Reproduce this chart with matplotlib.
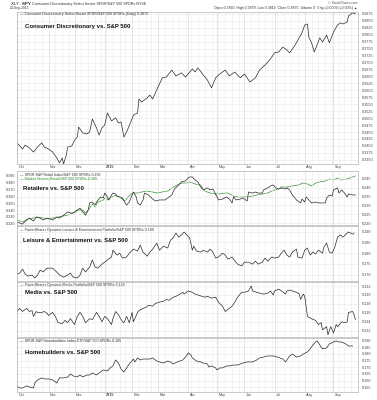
import matplotlib
matplotlib.use("Agg")
import matplotlib.pyplot as plt
import pandas as pd

plt.rcParams["font.family"] = ["Liberation Sans", "DejaVu Sans"]

# Trading-day calendar, 1 Oct 2014 .. 24 Sep 2015 (x axis is the trading-day index)
holidays = ["2014-11-27", "2014-12-25", "2015-01-01", "2015-01-19", "2015-02-16",
            "2015-04-03", "2015-05-25", "2015-07-03", "2015-09-07"]
dates = pd.bdate_range("2014-10-01", "2015-09-24")
dates = dates[~dates.isin(pd.to_datetime(holidays))]
month_labels = ["Oct", "Nov", "Dec", "2015", "Feb", "Mar", "Apr", "May", "Jun", "Jul", "Aug", "Sep"]

# Consumer Discretionary / S&P 500
cd_days = [0, 4, 6, 9, 12, 15, 18, 20, 23, 26, 29, 31, 33, 34, 36, 37, 40, 42, 44, 45,
           48, 51, 53, 55, 58, 60, 62, 64, 66, 69, 72, 74, 76, 78, 80, 83, 85, 88, 89, 91,
           95, 97, 99, 101, 104, 106, 109, 113, 116, 120, 123, 128, 130, 132, 136, 139, 142, 145, 148, 152,
           155, 159, 163, 166, 170, 174, 177, 181, 185, 188, 191, 194, 197, 199, 203, 205, 208, 210, 212, 213,
           215, 217, 219, 221, 223, 226, 228, 231, 234, 236, 238, 241, 242, 245, 247]
cd_vals = [0.3411, 0.3389, 0.3403, 0.3393, 0.3378, 0.3396, 0.3411, 0.3396, 0.3389, 0.3378,
           0.3357, 0.3339, 0.3357, 0.3335, 0.3367, 0.3396, 0.3400, 0.3421, 0.3432, 0.3468,
           0.3447, 0.3443, 0.3450, 0.3497, 0.3465, 0.3439, 0.3465, 0.3475, 0.3519, 0.3490,
           0.3501, 0.3483, 0.3486, 0.3432, 0.3450, 0.3486, 0.3511, 0.3519, 0.3569, 0.3558,
           0.3573, 0.3583, 0.3569, 0.3591, 0.3623, 0.3645, 0.3648, 0.3673, 0.3652, 0.3663,
           0.3648, 0.3677, 0.3666, 0.3681, 0.3655, 0.3637, 0.3609, 0.3645, 0.3659, 0.3673,
           0.3652, 0.3666, 0.3645, 0.3659, 0.3630, 0.3645, 0.3673, 0.3691, 0.3713, 0.3735,
           0.3738, 0.3756, 0.3745, 0.3735, 0.3763, 0.3781, 0.3807, 0.3835, 0.3839, 0.3792,
           0.3771, 0.3738, 0.3763, 0.3789, 0.3774, 0.3799, 0.3771, 0.3810, 0.3835, 0.3843,
           0.3839, 0.3846, 0.3868, 0.3879, 0.3875]

# SPDR S&P Retail / S&P 500 (black, right scale)
xrt_days = [0, 2, 4, 7, 9, 12, 14, 17, 19, 22, 24, 26, 29, 31, 34, 37, 39, 41, 44, 46,
            48, 50, 52, 53, 55, 57, 58, 61, 63, 64, 66, 67, 69, 70, 72, 73, 75, 77, 79, 80,
            82, 84, 85, 87, 88, 90, 92, 93, 96, 99, 101, 104, 108, 110, 113, 115, 118, 120, 123, 125,
            126, 128, 130, 132, 134, 136, 139, 141, 143, 146, 147, 150, 153, 155, 157, 158, 160, 163, 165, 168,
            169, 172, 174, 176, 179, 180, 183, 185, 187, 189, 191, 193, 196, 197, 199, 201, 204, 207, 208, 210,
            211, 213, 215, 218, 220, 223, 225, 226, 228, 230, 231, 234, 235, 237, 239, 241, 242, 245, 247]
xrt_vals = [0.2206, 0.2200, 0.2194, 0.2217, 0.2228, 0.2211, 0.2234, 0.2228, 0.2217, 0.2228,
            0.2223, 0.2217, 0.2234, 0.2228, 0.2245, 0.2263, 0.2257, 0.2257, 0.2274, 0.2285,
            0.2263, 0.2245, 0.2274, 0.2314, 0.2319, 0.2302, 0.2319, 0.2348, 0.2342, 0.2370,
            0.2348, 0.2331, 0.2359, 0.2370, 0.2365, 0.2353, 0.2348, 0.2342, 0.2314, 0.2302,
            0.2319, 0.2359, 0.2376, 0.2348, 0.2314, 0.2302, 0.2331, 0.2370, 0.2359, 0.2336,
            0.2325, 0.2331, 0.2331, 0.2342, 0.2359, 0.2393, 0.2416, 0.2433, 0.2439, 0.2456,
            0.2461, 0.2461, 0.2444, 0.2433, 0.2405, 0.2388, 0.2399, 0.2388, 0.2393, 0.2348,
            0.2331, 0.2336, 0.2348, 0.2336, 0.2314, 0.2348, 0.2331, 0.2336, 0.2342, 0.2325,
            0.2376, 0.2370, 0.2376, 0.2370, 0.2370, 0.2388, 0.2399, 0.2410, 0.2416, 0.2399,
            0.2393, 0.2399, 0.2393, 0.2399, 0.2388, 0.2359, 0.2331, 0.2314, 0.2336, 0.2319,
            0.2348, 0.2331, 0.2314, 0.2319, 0.2314, 0.2314, 0.2314, 0.2342, 0.2359, 0.2353,
            0.2388, 0.2399, 0.2370, 0.2388, 0.2370, 0.2348, 0.2365, 0.2359, 0.2359]

# Market Vectors Retail / S&P 500 (green, left scale)
rth_days = [0, 4, 8, 12, 15, 19, 23, 26, 30, 34, 37, 41, 45, 48, 50, 52, 55, 57, 59, 63,
            65, 66, 69, 72, 74, 77, 79, 81, 84, 88, 91, 95, 99, 102, 106, 110, 113, 117, 120, 124,
            126, 130, 134, 137, 141, 145, 148, 152, 154, 158, 161, 165, 169, 172, 175, 179, 183, 186, 188, 191,
            193, 196, 198, 201, 205, 209, 212, 215, 218, 221, 225, 228, 231, 234, 237, 241, 243, 247]
rth_vals = [0.3255, 0.3226, 0.3270, 0.3284, 0.3299, 0.3284, 0.3270, 0.3284, 0.3299, 0.3313,
            0.3327, 0.3357, 0.3400, 0.3400, 0.3357, 0.3400, 0.3487, 0.3443, 0.3516, 0.3545,
            0.3588, 0.3545, 0.3588, 0.3617, 0.3588, 0.3559, 0.3530, 0.3588, 0.3646, 0.3646,
            0.3661, 0.3675, 0.3661, 0.3646, 0.3661, 0.3675, 0.3719, 0.3762, 0.3791, 0.3791,
            0.3806, 0.3777, 0.3762, 0.3675, 0.3646, 0.3632, 0.3632, 0.3646, 0.3646, 0.3603,
            0.3588, 0.3588, 0.3588, 0.3603, 0.3617, 0.3632, 0.3646, 0.3675, 0.3690, 0.3704,
            0.3733, 0.3733, 0.3733, 0.3748, 0.3762, 0.3791, 0.3777, 0.3748, 0.3791, 0.3806,
            0.3820, 0.3849, 0.3835, 0.3864, 0.3835, 0.3849, 0.3864, 0.3893]

# PowerShares Dynamic Leisure & Entertainment / S&P 500
pej_days = [0, 2, 4, 6, 8, 11, 13, 15, 17, 19, 22, 24, 26, 29, 31, 34, 37, 39, 41, 44,
            46, 48, 50, 53, 55, 57, 59, 62, 64, 66, 69, 70, 73, 75, 77, 80, 82, 85, 88, 90,
            92, 95, 97, 99, 102, 104, 107, 110, 112, 114, 116, 118, 120, 122, 124, 126, 128, 129, 131, 134,
            136, 139, 141, 143, 145, 147, 150, 152, 154, 157, 159, 161, 164, 166, 169, 172, 174, 176, 179, 181,
            183, 186, 188, 191, 193, 195, 197, 199, 201, 204, 205, 208, 210, 212, 214, 216, 218, 220, 223, 224,
            226, 228, 230, 232, 234, 236, 238, 241, 242, 245, 246]
pej_vals = [0.1702, 0.1707, 0.1726, 0.1702, 0.1693, 0.1698, 0.1684, 0.1698, 0.1721, 0.1712,
            0.1730, 0.1730, 0.1730, 0.1712, 0.1698, 0.1688, 0.1698, 0.1707, 0.1688, 0.1684,
            0.1698, 0.1730, 0.1712, 0.1735, 0.1768, 0.1735, 0.1730, 0.1749, 0.1758, 0.1768,
            0.1782, 0.1814, 0.1791, 0.1800, 0.1777, 0.1782, 0.1800, 0.1819, 0.1810, 0.1838,
            0.1805, 0.1786, 0.1805, 0.1819, 0.1847, 0.1814, 0.1833, 0.1824, 0.1861, 0.1871,
            0.1894, 0.1875, 0.1885, 0.1899, 0.1885, 0.1871, 0.1814, 0.1833, 0.1810, 0.1805,
            0.1814, 0.1805, 0.1819, 0.1805, 0.1777, 0.1782, 0.1800, 0.1791, 0.1772, 0.1782,
            0.1763, 0.1749, 0.1740, 0.1758, 0.1758, 0.1749, 0.1763, 0.1749, 0.1758, 0.1777,
            0.1763, 0.1782, 0.1777, 0.1782, 0.1800, 0.1814, 0.1791, 0.1782, 0.1805, 0.1819,
            0.1782, 0.1777, 0.1814, 0.1824, 0.1791, 0.1805, 0.1796, 0.1814, 0.1800, 0.1829,
            0.1847, 0.1805, 0.1800, 0.1829, 0.1875, 0.1885, 0.1875, 0.1894, 0.1899, 0.1889,
            0.1894]

# PowerShares Dynamic Media / S&P 500
pbs_days = [0, 2, 4, 7, 9, 11, 12, 14, 15, 18, 20, 22, 23, 26, 28, 30, 33, 35, 37, 39,
            42, 44, 46, 48, 50, 53, 55, 58, 60, 62, 64, 66, 69, 70, 72, 74, 77, 78, 80, 82,
            84, 85, 88, 89, 92, 94, 96, 99, 101, 104, 107, 109, 111, 114, 116, 119, 121, 122, 125, 128,
            130, 132, 135, 137, 139, 142, 145, 147, 150, 152, 154, 157, 159, 161, 164, 166, 169, 171, 172, 175,
            177, 180, 183, 185, 187, 188, 191, 193, 196, 197, 199, 201, 204, 206, 207, 209, 210, 212, 215, 218,
            220, 222, 223, 226, 227, 229, 231, 233, 234, 237, 239, 241, 242, 245, 246, 247]
pbs_vals = [0.1263, 0.1270, 0.1263, 0.1270, 0.1263, 0.1265, 0.1252, 0.1263, 0.1261, 0.1261,
            0.1263, 0.1259, 0.1254, 0.1261, 0.1252, 0.1238, 0.1236, 0.1243, 0.1238, 0.1247,
            0.1234, 0.1252, 0.1261, 0.1252, 0.1238, 0.1247, 0.1245, 0.1261, 0.1252, 0.1240,
            0.1252, 0.1247, 0.1234, 0.1247, 0.1263, 0.1256, 0.1240, 0.1238, 0.1252, 0.1238,
            0.1261, 0.1240, 0.1261, 0.1265, 0.1270, 0.1272, 0.1277, 0.1275, 0.1281, 0.1284,
            0.1286, 0.1290, 0.1288, 0.1295, 0.1297, 0.1302, 0.1306, 0.1302, 0.1309, 0.1306,
            0.1302, 0.1300, 0.1297, 0.1295, 0.1297, 0.1293, 0.1295, 0.1284, 0.1275, 0.1263,
            0.1268, 0.1275, 0.1284, 0.1295, 0.1306, 0.1306, 0.1309, 0.1320, 0.1309, 0.1306,
            0.1304, 0.1302, 0.1304, 0.1309, 0.1300, 0.1309, 0.1313, 0.1309, 0.1302, 0.1309,
            0.1311, 0.1309, 0.1306, 0.1302, 0.1290, 0.1302, 0.1297, 0.1252, 0.1247, 0.1243,
            0.1234, 0.1238, 0.1222, 0.1229, 0.1211, 0.1229, 0.1215, 0.1234, 0.1229, 0.1240,
            0.1238, 0.1240, 0.1261, 0.1263, 0.1256, 0.1245]

# SPDR S&P Homebuilders / S&P 500
xhb_days = [0, 2, 4, 7, 9, 12, 13, 15, 18, 20, 23, 26, 28, 29, 31, 34, 37, 39, 41, 44,
            46, 48, 51, 53, 55, 58, 61, 63, 66, 68, 70, 72, 74, 76, 78, 80, 82, 85, 86, 88,
            90, 92, 95, 97, 99, 102, 104, 107, 110, 112, 114, 117, 119, 121, 123, 125, 127, 128, 131, 134,
            136, 139, 140, 142, 145, 146, 148, 150, 153, 155, 158, 161, 163, 165, 168, 170, 172, 175, 177, 180,
            183, 185, 187, 190, 192, 194, 196, 197, 199, 201, 204, 207, 209, 212, 214, 216, 218, 219, 221, 223,
            226, 228, 231, 233, 235, 237, 240, 242, 245]
xhb_vals = [0.1560, 0.1544, 0.1544, 0.1560, 0.1552, 0.1544, 0.1582, 0.1605, 0.1620, 0.1612,
            0.1612, 0.1605, 0.1590, 0.1582, 0.1620, 0.1620, 0.1627, 0.1650, 0.1635, 0.1627,
            0.1642, 0.1627, 0.1642, 0.1642, 0.1657, 0.1642, 0.1665, 0.1680, 0.1672, 0.1695,
            0.1710, 0.1755, 0.1732, 0.1687, 0.1665, 0.1695, 0.1725, 0.1762, 0.1740, 0.1770,
            0.1755, 0.1762, 0.1762, 0.1762, 0.1770, 0.1747, 0.1740, 0.1732, 0.1747, 0.1740,
            0.1725, 0.1740, 0.1747, 0.1755, 0.1777, 0.1808, 0.1792, 0.1770, 0.1747, 0.1740,
            0.1732, 0.1725, 0.1702, 0.1710, 0.1695, 0.1680, 0.1695, 0.1695, 0.1710, 0.1710,
            0.1717, 0.1717, 0.1725, 0.1732, 0.1740, 0.1740, 0.1740, 0.1755, 0.1770, 0.1777,
            0.1785, 0.1785, 0.1785, 0.1777, 0.1770, 0.1762, 0.1740, 0.1755, 0.1785, 0.1800,
            0.1777, 0.1785, 0.1800, 0.1815, 0.1838, 0.1868, 0.1890, 0.1898, 0.1868, 0.1838,
            0.1845, 0.1875, 0.1890, 0.1898, 0.1890, 0.1890, 0.1875, 0.1860, 0.1860]

# axis tick values
cd_ticks = [0.3350 + 0.0025 * i for i in range(22)]
xrt_ticks = [0.220, 0.225, 0.230, 0.235, 0.240, 0.245]
rth_ticks = [0.320, 0.330, 0.340, 0.350, 0.360, 0.370, 0.380, 0.390]
pej_ticks = [0.170, 0.175, 0.180, 0.185, 0.190]
pbs_ticks = [0.122, 0.124, 0.126, 0.128, 0.130, 0.132]
xhb_ticks = [0.155, 0.160, 0.165, 0.170, 0.175, 0.180, 0.185, 0.190]

W, H = 377, 400
fig = plt.figure(figsize=(W / 100, H / 100), dpi=100)
fig.patch.set_facecolor("white")

month_idx = [i for i in range(len(dates)) if i == 0 or dates[i].month != dates[i - 1].month]
week_idx = [i for i in range(1, len(dates)) if dates[i].weekday() < dates[i - 1].weekday()]
XMAX = 248.9
LINE = "#2a2a2a"
LW = 0.5
SMALL = 2.7


def rect(top, bottom):
    return [17 / W, 1 - bottom / H, (358 - 17) / W, (bottom - top) / H]


def panel(top, bottom, ylim, ticks, fmt):
    ax = fig.add_axes(rect(top, bottom))
    ax.set_xlim(0, XMAX)
    ax.set_ylim(*ylim)
    ax.set_yticks(ticks)
    ax.set_yticklabels([fmt.format(t) for t in ticks])
    ax.set_xticks(month_idx)
    ax.set_xticks(week_idx, minor=True)
    ax.grid(which="minor", axis="x", color="#ececec", lw=0.4)
    ax.grid(which="major", axis="x", color="#d6d6d6", lw=0.45)
    ax.grid(which="major", axis="y", color="#e6e6e6", lw=0.4)
    ax.set_axisbelow(True)
    ax.tick_params(axis="x", which="both", length=0, labelbottom=False)
    ax.tick_params(axis="y", length=0, pad=2.5, labelsize=SMALL, colors="#444444",
                   left=False, labelleft=False, right=True, labelright=True)
    for s in ax.spines.values():
        s.set_color("#b4b4b4")
        s.set_linewidth(0.5)
    return ax


def month_axis(ax):
    for idx, lab in zip(month_idx, month_labels):
        ax.annotate(lab, xy=(idx, 0), xycoords=("data", "axes fraction"),
                    xytext=(1.2, -2.3), textcoords="offset points", ha="left", va="center",
                    fontsize=SMALL, color="#444444",
                    fontweight="bold" if lab == "2015" else "normal")


def label(x, y, s, **kw):
    kw.setdefault("fontsize", SMALL)
    kw.setdefault("color", "#333333")
    fig.text(x / W, 1 - y / H, s, va="center", **kw)


# header
label(10, 3.5, "$XLY:$SPY", fontweight="bold", fontsize=3.2, color="#222222")
label(32, 3.5, "Consumer Discretionary Select Sector SPDR/S&P 500 SPDRs NYSE")
label(10, 8.5, "24-Sep-2015", fontsize=2.4)
label(357, 2.5, "\u00a9 StockCharts.com", ha="right", fontsize=2.4, color="#555555")
label(357, 8.0, "Open 0.3860  High 0.3879  Low 0.3816  Close 0.3875  Volume 0  Chg +0.0009 (+0.00%) \u25b2",
      ha="right", fontsize=2.5)

# main panel
ax = panel(12, 164, (0.3335, 0.3882), cd_ticks, "{:.4f}")
ax.plot(cd_days, cd_vals, color=LINE, lw=LW)
month_axis(ax)
label(20, 14.5, "\u2014 Consumer Discretionary Select Sector SPDR/S&P 500 SPDRs (Daily) 0.3875", fontsize=2.6)
label(25, 26.5, "Consumer Discretionary vs. S&P 500", fontweight="bold", fontsize=4.3, color="#111111")

# retail panel: black on the right scale, green on the left scale
ax = panel(171, 225, (0.2189, 0.2495), xrt_ticks, "{:.3f}")
ax2 = ax.twinx()
ax.tick_params(axis="y", left=False, labelleft=False, right=True, labelright=True)
ax2.set_ylim(0.3183, 0.3965)
ax2.set_yticks(rth_ticks)
ax2.set_yticklabels(["{:.3f}".format(t) for t in rth_ticks])
ax2.tick_params(axis="y", length=0, pad=1.5, labelsize=SMALL, colors="#444444",
                left=True, labelleft=True, right=False, labelright=False)
ax2.plot(rth_days, rth_vals, color="#2f8f2f", lw=LW)
ax2.plot([], [])
for s in ax2.spines.values():
    s.set_visible(False)
ax.plot(xrt_days, xrt_vals, color=LINE, lw=LW)
ax.set_zorder(ax2.get_zorder() + 1)
ax.patch.set_visible(False)
label(20, 174.5, "\u2014 SPDR S&P Retail Index/S&P 500 SPDRs 0.236", fontsize=2.6)
label(20, 179.5, "\u2014 Market Vectors Retail/S&P 500 SPDRs 0.389", fontsize=2.6, color="#2f8f2f")
label(23, 188, "Retailers vs. S&P 500", fontweight="bold", fontsize=4.3, color="#111111")

# leisure panel
ax = panel(226, 281, (0.1670, 0.1927), pej_ticks, "{:.3f}")
ax.plot(pej_days, pej_vals, color=LINE, lw=LW)
label(20, 230, "\u2014 PowerShares Dynamic Leisure & Entertainment Portfolio/S&P 500 SPDRs 0.189", fontsize=2.6)
label(23, 241, "Leisure & Entertainment vs. S&P 500", fontweight="bold", fontsize=4.3, color="#111111")

# media panel
ax = panel(282, 337, (0.1206, 0.1329), pbs_ticks, "{:.3f}")
ax.plot(pbs_days, pbs_vals, color=LINE, lw=LW)
label(20, 285, "\u2014 PowerShares Dynamic Media Portfolio/S&P 500 SPDRs 0.124", fontsize=2.6)
label(25, 292.5, "Media vs. S&P 500", fontweight="bold", fontsize=4.3, color="#111111")

# homebuilders panel
ax = panel(338, 392, (0.1514, 0.1920), xhb_ticks, "{:.3f}")
ax.plot(xhb_days, xhb_vals, color=LINE, lw=LW)
month_axis(ax)
label(20, 341, "\u2014 SPDR S&P Homebuilders Index ETF/S&P 500 SPDRs 0.185", fontsize=2.6)
label(25, 353, "Homebuilders vs. S&P 500", fontweight="bold", fontsize=4.3, color="#111111")

fig.savefig("out.png", dpi=100, facecolor="white")
